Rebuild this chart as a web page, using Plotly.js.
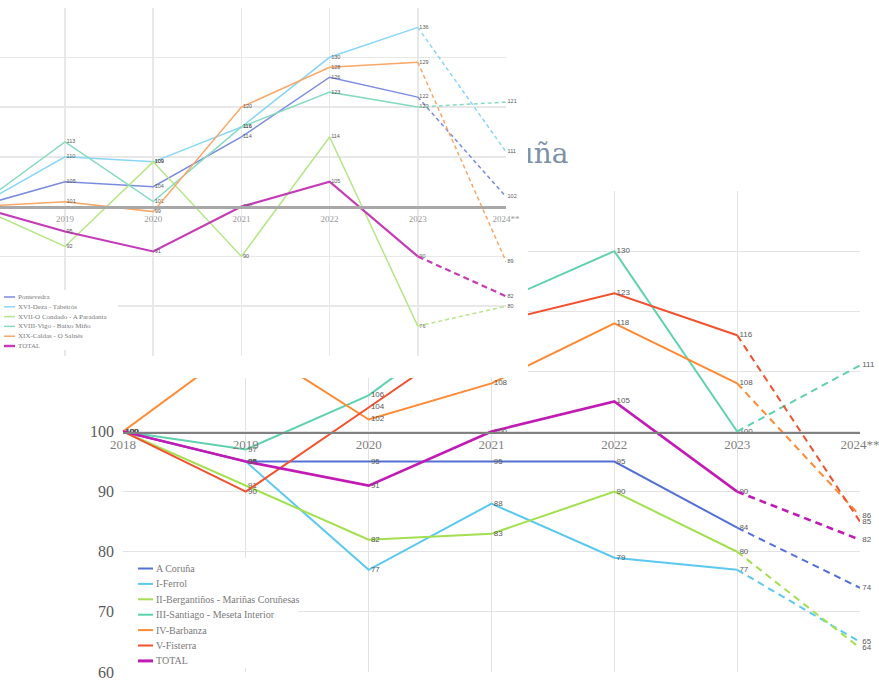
<!DOCTYPE html>
<html>
<head>
<meta charset="utf-8">
<script src="https://cdn.plot.ly/plotly-3.0.1.min.js"></script>
<style>
  html, body { margin: 0; padding: 0; background: #fff; }
  #chart { width: 879px; height: 684px; }
</style>
</head>
<body>
<div id="chart"></div>
<script>
var years = ["2018", "2019", "2020", "2021", "2022", "2023", "2024**"];

// A Coruña (chart at the back)
var corunaNames = ["A Coruña", "I-Ferrol", "II-Bergantiños - Mariñas Coruñesas", "III-Santiago - Meseta Interior", "IV-Barbanza", "V-Fisterra", "TOTAL"];
var corunaColors = ["#5470d6", "#5bc8f0", "#a3e04f", "#5fd1ae", "#ff8a33", "#f2512f", "#c21bb5"];
var aCoruna = [100, 95, 95, 95, 95, 84, 74];
var ferrol = [100, 95, 77, 88, 79, 77, 65];
var bergantinos = [100, 91, 82, 83, 90, 80, 64];
var santiago = [100, 97, 106, 121, 130, 100, 111];
var barbanza = [100, 115, 102, 108, 118, 108, 86];
var fisterra = [100, 90, 104, 118, 123, 116, 85];
var totalCoruna = [100, 95, 91, 100, 105, 90, 82];
var corunaSeries = [aCoruna, ferrol, bergantinos, santiago, barbanza, fisterra, totalCoruna];
var corunaTicks = [60, 70, 80, 90, 100, 110, 120, 130, 140];
var corunaTickText = ["60", "70", "80", "90", "100", "", "", "", ""];

// Pontevedra (chart in front)
var pontevedraNames = ["Pontevedra", "XVI-Deza - Tabeirós", "XVII-O Condado - A Paradanta", "XVIII-Vigo - Baixo Miño", "XIX-Caldas - O Salnés", "TOTAL"];
var pontevedraColors = ["#7b8be0", "#8ad6f7", "#b5e687", "#86dbbf", "#f9a766", "#c43cb8"];
var pontevedra = [100, 105, 104, 114, 126, 122, 102];
var deza = [100, 110, 109, 116, 130, 136, 111];
var condado = [100, 92, 109, 90, 114, 76, 80];
var vigo = [100, 113, 101, 116, 123, 120, 121];
var caldas = [100, 101, 99, 120, 128, 129, 89];
var totalPontevedra = [100, 95, 91, 100, 105, 90, 82];
var pontevedraSeries = [pontevedra, deza, condado, vigo, caldas, totalPontevedra];

var W = 879, H = 684;
function px(x) { return x / W; }
function py(y) { return 1 - y / H; }

// solid 2018-2023, dashed 2023-2024**
function seriesTraces(values, color, width, dash, xa, ya, labelSize, skipFirstLabel) {
  var common = {
    type: "scatter",
    mode: "lines+text",
    textposition: "middle right",
    textfont: { family: "Liberation Sans", size: labelSize, color: "#595959" },
    cliponaxis: false,
    xaxis: xa,
    yaxis: ya,
    hoverinfo: "skip",
    showlegend: false
  };
  var labels = values.slice(0, 6).map(function (v) { return " " + v; });
  if (skipFirstLabel) labels[0] = "";
  var solid = Object.assign({}, common, {
    x: years.slice(0, 6),
    y: values.slice(0, 6),
    text: labels,
    line: { color: color, width: width }
  });
  var dashed = Object.assign({}, common, {
    x: years.slice(5),
    y: values.slice(5),
    text: ["", " " + values[6]],
    line: { color: color, width: width, dash: dash }
  });
  return [solid, dashed];
}

var traces = [];
corunaSeries.forEach(function (vals, i) {
  var isTotal = corunaNames[i] === "TOTAL";
  traces = traces.concat(seriesTraces(vals, corunaColors[i], isTotal ? 2.6 : 2, "7px,5px", "x", "y", 8, false));
});

// title of the back chart, then a white sheet over it
traces.push({
  type: "scatter", mode: "text", x: [435 / 528], y: [1 - 156 / 378],
  text: ["A Coruña"], textposition: "middle right", cliponaxis: false,
  textfont: { family: "DejaVu Serif", size: 28, color: "#7d91a6" },
  xaxis: "x2", yaxis: "y2", hoverinfo: "skip", showlegend: false
});
traces.push({
  type: "scatter", mode: "lines", x: [-0.1, 1.1, 1.1, -0.1, -0.1], y: [-0.1, -0.1, 1.1, 1.1, -0.1],
  fill: "toself", fillcolor: "#ffffff", line: { width: 0, color: "#ffffff" },
  xaxis: "x2", yaxis: "y2", hoverinfo: "skip", showlegend: false
});

pontevedraSeries.forEach(function (vals, i) {
  var isTotal = pontevedraNames[i] === "TOTAL";
  traces = traces.concat(seriesTraces(vals, pontevedraColors[i], isTotal ? 2.2 : 1.5, isTotal ? "6px,4px" : "4px,3px", "x3", "y3", 5.5, true));
});

var shapes = [];
var annotations = [];
function addLegend(names, colors, box, x0, x1, y0, step, fontSize, wide, thin) {
  shapes.push({
    type: "rect", xref: "paper", yref: "paper", layer: "above",
    x0: px(box[0]), x1: px(box[1]), y0: py(box[2]), y1: py(box[3]),
    fillcolor: "#ffffff", line: { width: 0 }
  });
  names.forEach(function (name, i) {
    var y = y0 + i * step;
    shapes.push({
      type: "line", xref: "paper", yref: "paper", layer: "above",
      x0: px(x0), x1: px(x1), y0: py(y), y1: py(y),
      line: { color: colors[i], width: name === "TOTAL" ? wide : thin }
    });
    annotations.push({
      xref: "paper", yref: "paper", x: px(x1 + 1), y: py(y), xanchor: "left", yanchor: "middle",
      text: name, showarrow: false,
      font: { family: "Liberation Serif", size: fontSize, color: "#7a7a7a" }
    });
  });
}
addLegend(pontevedraNames, pontevedraColors, [0, 118, 290, 350], 4, 15, 297, 9.8, 7, 2.5, 1.5);
addLegend(corunaNames, corunaColors, [123, 298, 558, 668], 138, 153, 568.5, 15.4, 10, 3, 2);

var layout = {
  width: W,
  height: H,
  margin: { l: 0, r: 0, t: 0, b: 0 },
  paper_bgcolor: "#ffffff",
  plot_bgcolor: "rgba(0,0,0,0)",
  showlegend: false,
  xaxis: {
    type: "category", categoryarray: years, range: [0, 6], fixedrange: true,
    domain: [px(123), px(860)], anchor: "free", position: py(432),
    showline: true, linecolor: "#808080", linewidth: 1.5,
    showgrid: true, gridcolor: "#e3e3e3", gridwidth: 1.2, ticks: "",
    tickfont: { family: "Liberation Serif", size: 13, color: "#7f7f7f" }
  },
  yaxis: {
    range: [60, 140], domain: [py(672), py(191)], anchor: "x", fixedrange: true,
    tickvals: corunaTicks, ticktext: corunaTickText, ticks: "", ticklabelstandoff: 8,
    showgrid: true, gridcolor: "#e3e3e3", gridwidth: 1.2, zeroline: false, showline: false,
    tickfont: { family: "Liberation Serif", size: 16, color: "#595959" }
  },
  xaxis2: { domain: [0, px(528)], range: [0, 1], visible: false, anchor: "y2", fixedrange: true },
  yaxis2: { domain: [py(378), 1], range: [0, 1], visible: false, anchor: "x2", fixedrange: true },
  xaxis3: {
    type: "category", categoryarray: years, range: [0.2628, 6], fixedrange: true,
    domain: [0, px(506)], anchor: "free", position: py(207),
    showline: true, linecolor: "#a8a8a8", linewidth: 2.5,
    showgrid: true, gridcolor: "#e8e8e8", gridwidth: 1.5, ticks: "", ticklabelstandoff: 3,
    tickfont: { family: "Liberation Serif", size: 9, color: "#999999" }
  },
  yaxis3: {
    range: [70, 140], dtick: 10, domain: [py(356), py(7.5)], anchor: "x3", fixedrange: true,
    showticklabels: false, showgrid: true, gridcolor: "#e8e8e8", gridwidth: 1.5,
    zeroline: false, showline: false
  },
  shapes: shapes,
  annotations: annotations
};

Plotly.newPlot("chart", traces, layout, { displayModeBar: false, staticPlot: true });
</script>
</body>
</html>
